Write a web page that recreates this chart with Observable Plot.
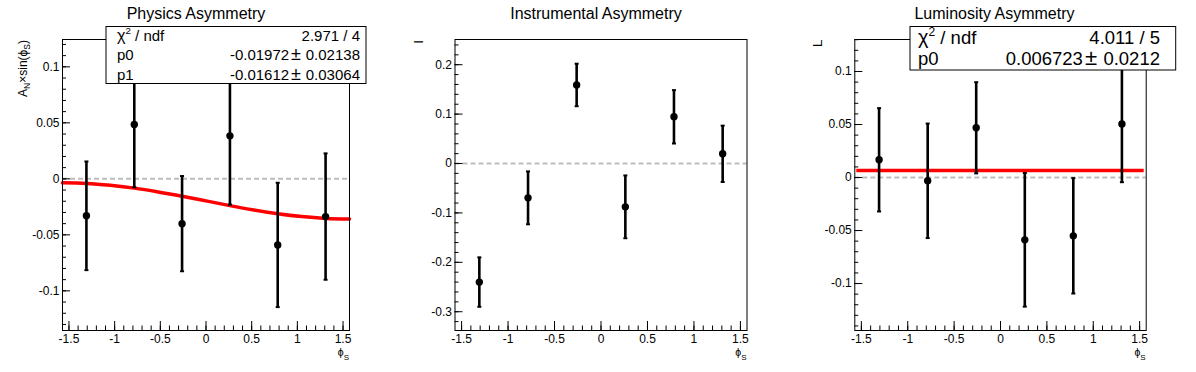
<!DOCTYPE html>
<html><head><meta charset="utf-8">
<script src="https://cdn.jsdelivr.net/npm/d3@7"></script>
<script src="https://cdn.jsdelivr.net/npm/@observablehq/plot@0.6"></script>
<style>
body{margin:0;background:#fff;}
#wrap{position:relative;width:1196px;height:372px;font-family:"Liberation Sans",Arial,Helvetica,sans-serif;}
.pad{position:absolute;top:0;}
.pad svg{overflow:visible;}
</style></head><body><div id="wrap"></div>
<script>
// ---- data ----
const phiS = [-1.309, -0.785, -0.262, 0.262, 0.785, 1.309];
const physVal = [-0.033, 0.0485, -0.040, 0.0384, -0.059, -0.0337];
const physErr = [0.0485, 0.056, 0.0425, 0.0614, 0.0555, 0.0564];
const instVal = [-0.240, -0.0695, 0.159, -0.0877, 0.0945, 0.0196];
const instErr = [0.050, 0.0535, 0.043, 0.0635, 0.054, 0.057];
const lumiVal = [0.0167, -0.0031, 0.0469, -0.0588, -0.055, 0.0506];
const lumiErr = [0.0487, 0.054, 0.043, 0.063, 0.0544, 0.055];
// fit curve of the physics panel
const fitX = [-1.5708, -1.309, -1.0472, -0.7854, -0.5236, -0.2618, 0, 0.2618, 0.5236, 0.7854, 1.0472, 1.309, 1.5708];
const fitPhys = [-0.0036, -0.0041, -0.0058, -0.0083, -0.0117, -0.0155, -0.0197, -0.0239, -0.0278, -0.0311, -0.0337, -0.0353, -0.0358];
const lumiFit = 0.006723;
// tick labels
const xMajor = [-1.5, -1, -0.5, 0, 0.5, 1, 1.5];
const yMajorPhys = [-0.1, -0.05, 0, 0.05, 0.1];
const yMajorInst = [-0.3, -0.2, -0.1, 0, 0.1, 0.2];
const yMajorLumi = [-0.1, -0.05, 0, 0.05, 0.1];
// titles and stats text
const titles = ["Physics Asymmetry", "Instrumental Asymmetry", "Luminosity Asymmetry"];
const statsPhys = [["ndf", "2.971 / 4"], ["p0", "-0.01972", "0.02138"], ["p1", "-0.01612", "0.03064"]];
const statsLumi = [["ndf", "4.011 / 5"], ["p0", "0.006723", "0.0212"]];

const FONT = '"Liberation Sans", Arial, Helvetica, sans-serif';
const range = (a, b, s) => { const out = []; for (let v = a; v <= b + 1e-9; v += s) out.push(Math.round(v * 1000) / 1000); return out; };
const xMinor = range(-1.5, 1.5, 0.1);

const capSymbol = { draw(ctx) { ctx.moveTo(-2, 0); ctx.lineTo(2, 0); } };

function panel(cfg) {
  const W = 398, H = 372, mt = 39, mb = 42;
  const fw = W - cfg.ml - cfg.mr, fh = H - mt - mb;
  const data = phiS.map((x, i) => ({ x, v: cfg.vals[i], e: cfg.errs[i] }));
  const marks = [
    Plot.ruleY([0], { stroke: "#bdbdbd", strokeWidth: 2, strokeDasharray: "5,3" }),
  ];
  if (cfg.fitCurve) marks.push(Plot.line(fitX.map((x, i) => ({ x, y: cfg.fitCurve[i] })), { x: "x", y: "y", stroke: "#ff0000", strokeWidth: 3.5, curve: "natural" }));
  if (cfg.fitConst != null) marks.push(Plot.ruleY([cfg.fitConst], { stroke: "#ff0000", strokeWidth: 3.5, insetLeft: 2, insetRight: 2 }));
  marks.push(
    Plot.ruleX(data, { x: "x", y1: d => d.v - d.e, y2: d => d.v + d.e, stroke: "#000", strokeWidth: 2.6 }),
    Plot.dot(data, { x: "x", y: d => d.v + d.e, symbol: capSymbol, stroke: "#000", fill: "none", strokeWidth: 2 }),
    Plot.dot(data, { x: "x", y: d => d.v - d.e, symbol: capSymbol, stroke: "#000", fill: "none", strokeWidth: 2 }),
    Plot.dot(data, { x: "x", y: "v", r: 3.7, fill: "#000", stroke: null }),
    Plot.frame({ stroke: "#000", strokeWidth: 1 }),
    Plot.tickY(cfg.yMinor, { stroke: "#000", insetRight: fw - 4 }),
    Plot.tickY(cfg.yMajor, { stroke: "#000", insetRight: fw - 8 }),
    Plot.tickX(xMinor, { stroke: "#000", insetTop: fh - 4.5 }),
    Plot.tickX(xMajor, { stroke: "#000", insetTop: fh - 9 }),
    Plot.axisY({ ticks: cfg.yMajor, tickSize: 0, tickPadding: 3, tickFormat: d => String(d), label: null, fontSize: 12 }),
    Plot.axisX({ ticks: xMajor, tickSize: 0, tickPadding: 4, tickFormat: d => String(d), label: null, fontSize: 12 })
  );
  const svg = Plot.plot({
    width: W, height: H, marginLeft: cfg.ml, marginRight: cfg.mr, marginTop: mt, marginBottom: mb,
    x: { domain: [-Math.PI / 2, Math.PI / 2] },
    y: { domain: cfg.yDomain },
    style: { fontFamily: FONT, fontSize: "12px", color: "#000", background: "transparent" },
    marks
  });
  const s = d3.select(svg);
  const txt = (x, y, fs, anchor) => s.append("text").attr("x", x).attr("y", y).attr("text-anchor", anchor)
    .attr("font-size", fs).attr("font-family", FONT).attr("fill", "#000");
  // title
  txt(cfg.titleX, 19, 16, "middle").text(cfg.title);
  // x axis title
  const xt = txt(W - cfg.mr, 356, 10.5, "end");
  xt.append("tspan").text("\u03d5");
  xt.append("tspan").attr("font-size", 8).attr("dy", 3.5).text("S");
  // y axis title
  cfg.yTitle(s);
  // stats box
  if (cfg.stats) {
    const b = cfg.box;
    s.append("rect").attr("x", b.x).attr("y", b.y).attr("width", b.w).attr("height", b.h)
      .attr("fill", "#fff").attr("stroke", "#000").attr("stroke-width", 1);
    cfg.stats.forEach((row, i) => {
      const y = b.base[i];
      const t = txt(b.tx, y, b.fs, "start");
      if (i === 0) {
        t.append("tspan").attr("font-size", b.fs * 1.08).text("\u03c7");
        t.append("tspan").attr("font-size", b.fs * 0.65).attr("dy", -b.fs * 0.42).text("2");
        t.append("tspan").attr("dy", b.fs * 0.42).text(" / " + row[0]);
        txt(b.rx, y, b.fs, "end").text(row[1]);
      } else {
        t.text(row[0]);
        const r = txt(b.rx, y, b.fs, "end");
        r.append("tspan").text(row[1]);
        r.append("tspan").attr("dx", b.fs * 0.12).attr("font-size", b.fs * 1.2).text("\u00b1");
        r.append("tspan").attr("dx", b.fs * 0.33).text(row[2]);
      }
    });
  }
  const div = document.createElement("div");
  div.className = "pad";
  div.style.left = cfg.left + "px";
  div.appendChild(svg);
  document.getElementById("wrap").appendChild(div);
}

panel({
  left: 0, ml: 62, mr: 49, yDomain: [-0.1354, 0.1244], yMajor: yMajorPhys, yMinor: range(-0.13, 0.12, 0.01),
  vals: physVal, errs: physErr, fitCurve: fitPhys, title: titles[0], titleX: 196,
  yTitle: s => {
    const t = s.append("text").attr("transform", "translate(26.5,40) rotate(-90)").attr("text-anchor", "end")
      .attr("font-size", 12).attr("font-family", FONT).attr("fill", "#000");
    t.append("tspan").text("A");
    t.append("tspan").attr("font-size", 8.5).attr("dy", 3).text("N");
    t.append("tspan").attr("dy", -3).text("\u00d7sin(\u03d5");
    t.append("tspan").attr("font-size", 8.5).attr("dy", 3).text("S");
    t.append("tspan").attr("dy", -3).text(")");
  },
  stats: statsPhys,
  box: { x: 106, y: 26.5, w: 260, h: 57, tx: 117, rx: 360, fs: 15, base: [40.5, 60, 79.5] }
});

panel({
  left: 399, ml: 55.5, mr: 50.5, yDomain: [-0.338, 0.251], yMajor: yMajorInst, yMinor: range(-0.32, 0.24, 0.02),
  vals: instVal, errs: instErr, title: titles[1], titleX: 197,
  yTitle: s => {
    s.append("text").attr("transform", "translate(23.7,40) rotate(-90)").attr("text-anchor", "end")
      .attr("font-size", 13.5).attr("font-family", FONT).attr("fill", "#000").text("I");
  }
});

panel({
  left: 798, ml: 56.3, mr: 50.3, yDomain: [-0.1443, 0.1302], yMajor: yMajorLumi, yMinor: range(-0.14, 0.13, 0.01),
  vals: lumiVal, errs: lumiErr, fitConst: lumiFit, title: titles[2], titleX: 196.5,
  yTitle: s => {
    s.append("text").attr("transform", "translate(24,39.5) rotate(-90)").attr("text-anchor", "end")
      .attr("font-size", 13.5).attr("font-family", FONT).attr("fill", "#000").text("L");
  },
  stats: statsLumi,
  box: { x: 112, y: 26.5, w: 265.7, h: 43.5, tx: 120, rx: 362, fs: 18.5, base: [43.5, 65] }
});
</script></body></html>
